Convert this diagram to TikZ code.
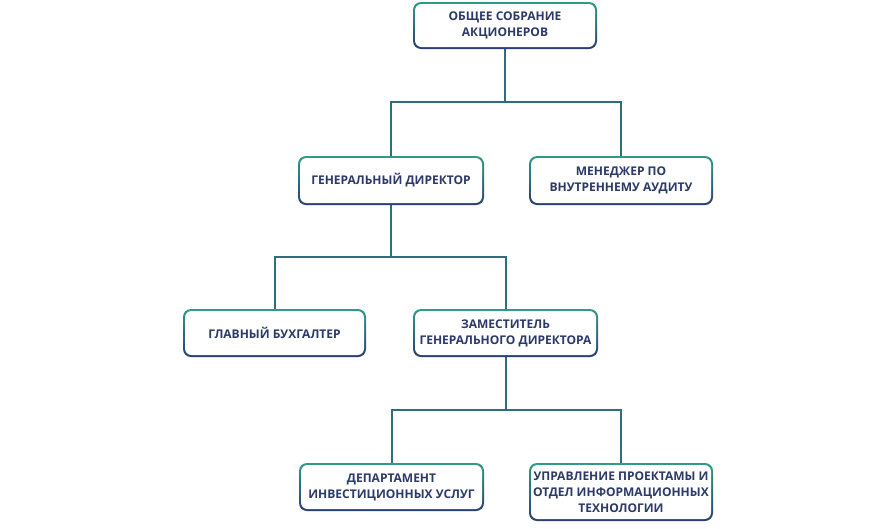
\documentclass[tikz,border=0pt]{standalone}
\usepackage{fontspec}
\setmainfont{Open Sans}
\usetikzlibrary{backgrounds}
\definecolor{tealc}{HTML}{2E9C88}
\definecolor{navyc}{HTML}{2A3D74}
\definecolor{connc}{HTML}{2E6E7C}
\definecolor{txtc}{HTML}{2B3A68}
\tikzset{
  gbox/.style={rounded corners=8pt, inner sep=0pt, align=center,
    font=\bfseries\fontsize{12}{16}\selectfont, text=txtc,
    path picture={
      \shade[top color=tealc, bottom color=navyc]
        (path picture bounding box.south west) rectangle (path picture bounding box.north east);
      \fill[white, rounded corners=6.5pt]
        ([shift={(2pt,2pt)}]path picture bounding box.south west) rectangle
        ([shift={(-2pt,-2pt)}]path picture bounding box.north east);}},
  conn/.style={draw=connc, line width=2pt}
}
\begin{document}
\begin{tikzpicture}[x=1pt,y=-1pt]
\useasboundingbox (0,0) rectangle (896,528);
\node[gbox, minimum width=184pt, minimum height=47pt] (b1) at (505,25.5) {ОБЩЕЕ СОБРАНИЕ\\АКЦИОНЕРОВ};
\node[gbox, minimum width=186pt, minimum height=49pt] (b2) at (391,180.5) {ГЕНЕРАЛЬНЫЙ ДИРЕКТОР};
\node[gbox, minimum width=184pt, minimum height=49pt] (b3) at (621,180.5) {МЕНЕДЖЕР ПО\\ВНУТРЕННЕМУ АУДИТУ};
\node[gbox, minimum width=183pt, minimum height=48pt] (b4) at (274.5,333) {ГЛАВНЫЙ БУХГАЛТЕР};
\node[gbox, minimum width=185pt, minimum height=48pt] (b5) at (505.5,333) {ЗАМЕСТИТЕЛЬ\\ГЕНЕРАЛЬНОГО ДИРЕКТОРА};
\node[gbox, minimum width=185pt, minimum height=48pt] (b6) at (391.5,487) {ДЕПАРТАМЕНТ\\ИНВЕСТИЦИОННЫХ УСЛУГ};
\node[gbox, minimum width=184pt, minimum height=58pt] (b7) at (621,492) {УПРАВЛЕНИЕ ПРОЕКТАМЫ И\\ОТДЕЛ ИНФОРМАЦИОННЫХ\\ТЕХНОЛОГИИ};
\begin{scope}[on background layer]
\draw[conn] (b1.south) -- (b1.south |- 0,102) coordinate (j1);
\draw[conn] (j1) -| (b2.north);
\draw[conn] (j1) -| (b3.north);
\draw[conn] (b2.south) -- (b2.south |- 0,257) coordinate (j2);
\draw[conn] (j2) -| (b4.north);
\draw[conn] (j2) -| (b5.north);
\draw[conn] (b5.south) -- (b5.south |- 0,410) coordinate (j3);
\draw[conn] (j3) -| (b6.north);
\draw[conn] (j3) -| (b7.north);
\end{scope}
\end{tikzpicture}
\end{document}
